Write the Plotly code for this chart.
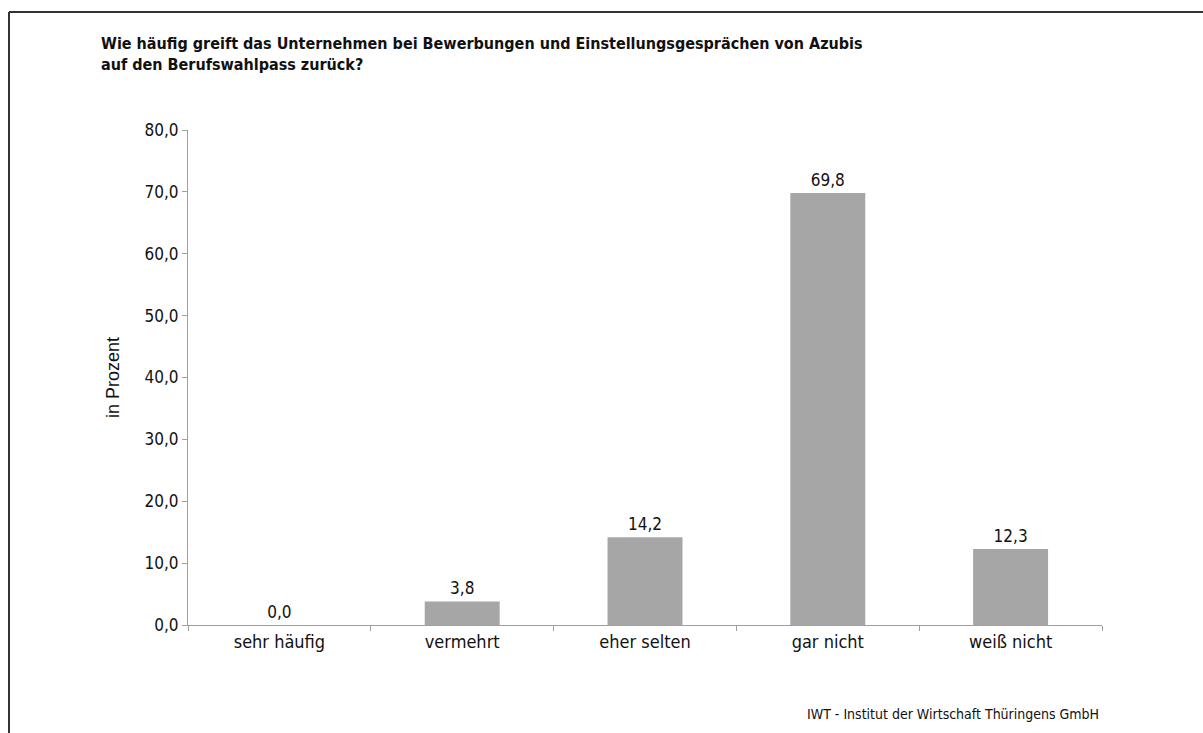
import plotly.graph_objects as go

categories = ["sehr häufig", "vermehrt", "eher selten", "gar nicht", "weiß nicht"]
values = [0.0, 3.8, 14.2, 69.8, 12.3]
y_ticks = [0, 10, 20, 30, 40, 50, 60, 70, 80]

W, H = 1203, 733
L, R, T, B = 188, 101, 130, 108
pw, ph = W - L - R, H - T - B

def px(x):
    return (x - L) / pw

def py(y):
    return (H - B - y) / ph

FONT = "DejaVu Sans Condensed, Liberation Sans Narrow, Arial Narrow, sans-serif"

fig = go.Figure(go.Bar(
    x=categories, y=values,
    marker=dict(color="#a6a6a6", line=dict(width=0)),
    texttemplate="%{y:.1f}", textposition="outside",
    textfont=dict(family=FONT, size=17, color="#111"),
    cliponaxis=False,
))

fig.update_layout(
    width=W, height=H,
    margin=dict(l=L, r=R, t=T, b=B),
    paper_bgcolor="white", plot_bgcolor="white",
    separators=",.",
    bargap=0.59,
    showlegend=False,
    font=dict(family=FONT, color="#111"),
    xaxis=dict(
        showline=True, linecolor="#a0a0a0", linewidth=1,
        ticks="outside", ticklen=5, tickcolor="#a0a0a0",
        tickson="boundaries",
        tickfont=dict(family=FONT, size=18, color="#111"),
        showgrid=False, zeroline=False,
    ),
    yaxis=dict(
        range=[0, 80], tickvals=y_ticks, tickformat=".1f",
        showline=True, linecolor="#a0a0a0", linewidth=1,
        ticks="outside", ticklen=5, tickcolor="#a0a0a0",
        tickfont=dict(family=FONT, size=17, color="#111"),
        showgrid=False, zeroline=False,
        title=dict(text="in Prozent", font=dict(family="Liberation Sans, Arial, sans-serif", size=18, color="#111"), standoff=20),
    ),
    annotations=[
        dict(text="<b>Wie häufig greift das Unternehmen bei Bewerbungen und Einstellungsgesprächen von Azubis<br>auf den Berufswahlpass zurück?</b>",
             xref="paper", yref="paper", x=px(99), y=py(32), xanchor="left", yanchor="top",
             align="left", showarrow=False,
             font=dict(family=FONT, size=16, color="#111")),
        dict(text="IWT - Institut der Wirtschaft Thüringens GmbH",
             xref="paper", yref="paper", x=px(1101), y=py(714), xanchor="right", yanchor="middle",
             showarrow=False, font=dict(family=FONT, size=14, color="#111")),
    ],
    shapes=[
        dict(type="line", xref="paper", yref="paper", x0=px(9), x1=px(1203), y0=py(12), y1=py(12),
             line=dict(color="#333", width=2)),
        dict(type="line", xref="paper", yref="paper", x0=px(9), x1=px(9), y0=py(12), y1=py(733),
             line=dict(color="#333", width=2)),
    ],
)

fig.write_html("out.html", config={"displayModeBar": False},
               post_script="document.body.style.margin='0';")
